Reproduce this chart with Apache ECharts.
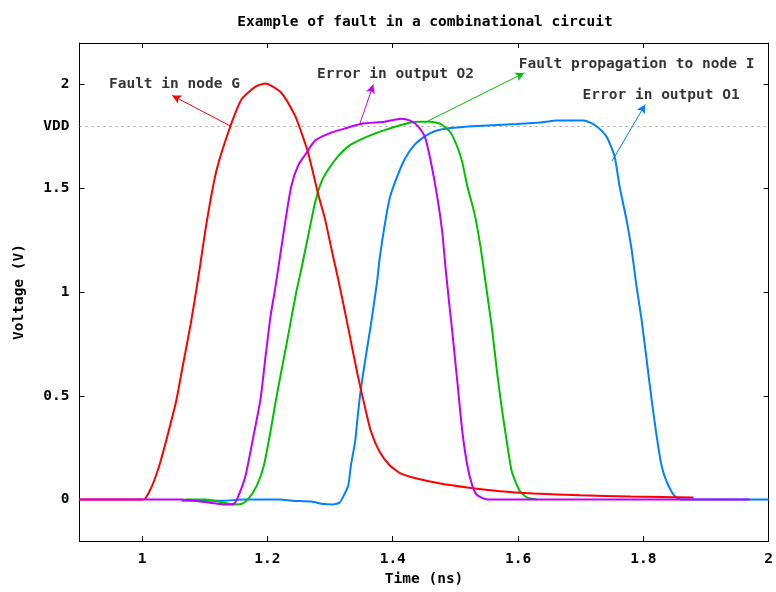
<!DOCTYPE html>
<html>
<head>
<meta charset="utf-8">
<script src="https://cdn.jsdelivr.net/npm/echarts@6/dist/echarts.min.js"></script>
<style>
  html, body { margin: 0; padding: 0; background: #fff; }
  #chart { width: 776px; height: 592px; }
</style>
</head>
<body>
<div id="chart"></div>
<script>
// Transient simulation of a fault in a combinational circuit: [time (ns), voltage (V)]
const faultNodeG = [
  [0.9, 0], [1.0, 0], [1.005, 0.005], [1.016, 0.067], [1.027, 0.16], [1.038, 0.28],
  [1.054, 0.47], [1.064, 0.63], [1.078, 0.855], [1.09, 1.077], [1.103, 1.337],
  [1.119, 1.59], [1.141, 1.80], [1.159, 1.93], [1.181, 1.99], [1.197, 2.005],
  [1.222, 1.96], [1.244, 1.85], [1.254, 1.77], [1.265, 1.67], [1.282, 1.46],
  [1.292, 1.35], [1.302, 1.21], [1.313, 1.06], [1.322, 0.93], [1.332, 0.78],
  [1.344, 0.60], [1.356, 0.44], [1.365, 0.33], [1.379, 0.23], [1.395, 0.165],
  [1.413, 0.125], [1.44, 0.10], [1.476, 0.077], [1.519, 0.058], [1.571, 0.04],
  [1.625, 0.029], [1.7, 0.02], [1.78, 0.014], [1.88, 0.01]
];
const errorOutputO2 = [
  [0.9, 0], [1.062, 0], [1.09, -0.008], [1.12, -0.02], [1.135, -0.024], [1.147, -0.02],
  [1.154, 0.02], [1.165, 0.115], [1.178, 0.31], [1.189, 0.485], [1.197, 0.69],
  [1.205, 0.885], [1.212, 1.01], [1.220, 1.17], [1.229, 1.35], [1.238, 1.51],
  [1.249, 1.61], [1.260, 1.66], [1.276, 1.73], [1.295, 1.76], [1.308, 1.774],
  [1.349, 1.81], [1.387, 1.82], [1.413, 1.835], [1.427, 1.827], [1.44, 1.80],
  [1.451, 1.75], [1.46, 1.64], [1.471, 1.46], [1.479, 1.29], [1.484, 1.125],
  [1.491, 0.92], [1.495, 0.81], [1.503, 0.57], [1.511, 0.33], [1.519, 0.165],
  [1.527, 0.067], [1.535, 0.02], [1.551, 0], [1.97, 0]
];
const faultPropagationI = [
  [1.069, 0], [1.10, 0], [1.13, -0.015], [1.145, -0.024], [1.16, -0.02], [1.17, 0.005],
  [1.183, 0.067], [1.194, 0.16], [1.205, 0.33], [1.213, 0.47], [1.221, 0.60],
  [1.229, 0.725], [1.237, 0.855], [1.246, 1.0], [1.254, 1.11], [1.265, 1.27],
  [1.276, 1.43], [1.286, 1.53], [1.297, 1.59], [1.313, 1.655], [1.333, 1.71],
  [1.36, 1.75], [1.387, 1.78], [1.419, 1.81], [1.44, 1.82], [1.46, 1.82],
  [1.476, 1.81], [1.492, 1.77], [1.503, 1.70], [1.511, 1.625], [1.519, 1.51],
  [1.530, 1.385], [1.540, 1.22], [1.548, 1.05], [1.554, 0.92], [1.559, 0.81],
  [1.567, 0.60], [1.575, 0.42], [1.583, 0.26], [1.590, 0.135], [1.602, 0.045],
  [1.614, 0.01], [1.63, 0]
];
const errorOutputO1 = [
  [1.063, -0.006], [1.13, -0.006], [1.16, 0], [1.22, 0], [1.24, -0.006], [1.27, -0.01],
  [1.29, -0.022], [1.305, -0.024], [1.315, -0.015], [1.321, 0.014], [1.329, 0.067],
  [1.333, 0.16], [1.34, 0.28], [1.344, 0.40], [1.349, 0.53], [1.357, 0.69],
  [1.365, 0.84], [1.371, 0.966], [1.375, 1.05], [1.379, 1.16], [1.387, 1.32],
  [1.395, 1.45], [1.405, 1.54], [1.419, 1.64], [1.435, 1.71], [1.451, 1.75],
  [1.467, 1.775], [1.492, 1.79], [1.535, 1.80], [1.598, 1.81], [1.635, 1.817],
  [1.662, 1.827], [1.705, 1.827], [1.725, 1.80], [1.741, 1.75], [1.754, 1.655],
  [1.762, 1.51], [1.773, 1.35], [1.781, 1.21], [1.789, 1.03], [1.797, 0.87],
  [1.805, 0.68], [1.813, 0.486], [1.821, 0.31], [1.829, 0.165], [1.837, 0.087],
  [1.849, 0.02], [1.86, 0], [2.0, 0]
];

// Axis ticks and labels
const timeTicks = [1, 1.2, 1.4, 1.6, 1.8, 2];
const voltTicks = [0, 0.5, 1, 1.5, 2];
const VDD = 1.8;
const voltLabelValues = [0, 0.5, 1, 1.5, VDD, 2];

// Annotation texts, where they start, and their arrows (tail on the curve, head by the text)
const noteTexts = ['Fault in node G', 'Error in output O2', 'Fault propagation to node I', 'Error in output O1'];
const noteAt = [[0.947, 2.003], [1.279, 2.048], [1.601, 2.096], [1.703, 1.947]];
const arrowTail = [[1.142, 1.798], [1.348, 1.815], [1.456, 1.824], [1.750, 1.631]];
const arrowHead = [[1.048, 1.947], [1.369, 2.0], [1.610, 2.056], [1.803, 1.904]];

const colors = { red: '#ff0000', green: '#00c000', blue: '#0080ff', purple: '#c000ff' };
const FONT = 'DejaVu Sans Mono';
const FONT_SIZE = 14.5;
const textStyle = { fontFamily: FONT, fontWeight: 'bold', fontSize: FONT_SIZE, color: '#000' };

function arrow(i, color) {
  return {
    silent: true,
    symbol: ['none', 'arrow'],
    symbolSize: [7, 9],
    label: { show: false },
    lineStyle: { color: color, width: 1, type: 'solid' },
    data: [[{ coord: arrowTail[i] }, { coord: arrowHead[i] }]]
  };
}

function curve(name, data, color, noteIdx, z) {
  return {
    name: name,
    type: 'line',
    data: data,
    showSymbol: false,
    symbol: 'none',
    smooth: 0.2,
    z: z,
    lineStyle: { color: color, width: 2 },
    itemStyle: { color: color },
    markLine: arrow(noteIdx, color)
  };
}

const chart = echarts.init(document.getElementById('chart'), null, { renderer: 'canvas' });

const tickStyle = { inside: true, length: 5, lineStyle: { color: '#000', width: 1 } };

chart.setOption({
  animation: false,
  backgroundColor: '#fff',
  title: {
    text: 'Example of fault in a combinational circuit',
    left: 420, textAlign: 'center',
    top: 10,
    textStyle: textStyle
  },
  grid: { left: 79.5, right: 3.5, top: 43, bottom: 48, containLabel: false },
  xAxis: [{
    type: 'value', min: 0.9, max: 2.0, position: 'bottom',
    name: 'Time (ns)', nameLocation: 'middle', nameGap: 31,
    nameTextStyle: textStyle,
    axisLine: { show: true, onZero: false, lineStyle: { color: '#000', width: 1 } },
    axisTick: Object.assign({ customValues: timeTicks }, tickStyle),
    axisLabel: Object.assign({ customValues: timeTicks, margin: 11 }, textStyle),
    splitLine: { show: false }
  }, {
    type: 'value', min: 0.9, max: 2.0, position: 'top',
    axisLine: { show: true, onZero: false, lineStyle: { color: '#000', width: 1 } },
    axisTick: Object.assign({ customValues: timeTicks }, tickStyle),
    axisLabel: { show: false },
    splitLine: { show: false }
  }],
  yAxis: [{
    type: 'value', min: -0.2, max: 2.2, position: 'left',
    name: 'Voltage (V)', nameLocation: 'middle', nameGap: 53, nameRotate: 90,
    nameTextStyle: textStyle,
    axisLine: { show: true, onZero: false, lineStyle: { color: '#000', width: 1 } },
    axisTick: Object.assign({ customValues: voltTicks }, tickStyle),
    axisLabel: Object.assign({
      customValues: voltLabelValues, margin: 10,
      formatter: v => (Math.abs(v - VDD) < 1e-9 ? 'VDD' : String(v))
    }, textStyle),
    splitLine: { show: false }
  }, {
    type: 'value', min: -0.2, max: 2.2, position: 'right',
    axisLine: { show: true, onZero: false, lineStyle: { color: '#000', width: 1 } },
    axisTick: Object.assign({ customValues: voltTicks }, tickStyle),
    axisLabel: { show: false },
    splitLine: { show: false }
  }],
  series: [
    {
      name: 'VDD level', type: 'line', data: [], z: 1,
      markLine: {
        silent: true, symbol: ['none', 'none'], z: 1,
        label: { show: false },
        lineStyle: { color: '#a0a0a0', width: 1, type: [2, 4] },
        data: [{ yAxis: VDD }]
      }
    },
    curve('Error in output O1', errorOutputO1, colors.blue, 3, 2),
    curve('Fault propagation to node I', faultPropagationI, colors.green, 2, 3),
    curve('Fault in node G', faultNodeG, colors.red, 0, 4),
    curve('Error in output O2', errorOutputO2, colors.purple, 1, 5),
    {
      name: 'notes', type: 'scatter', z: 6, silent: true,
      symbolSize: 0,
      data: noteTexts.map((t, i) => ({ value: noteAt[i], name: t })),
      label: {
        show: true, position: 'right', distance: 0,
        formatter: p => p.name,
        fontFamily: FONT, fontWeight: 'bold', fontSize: FONT_SIZE, color: '#000'
      }
    }
  ]
});
</script>
</body>
</html>
